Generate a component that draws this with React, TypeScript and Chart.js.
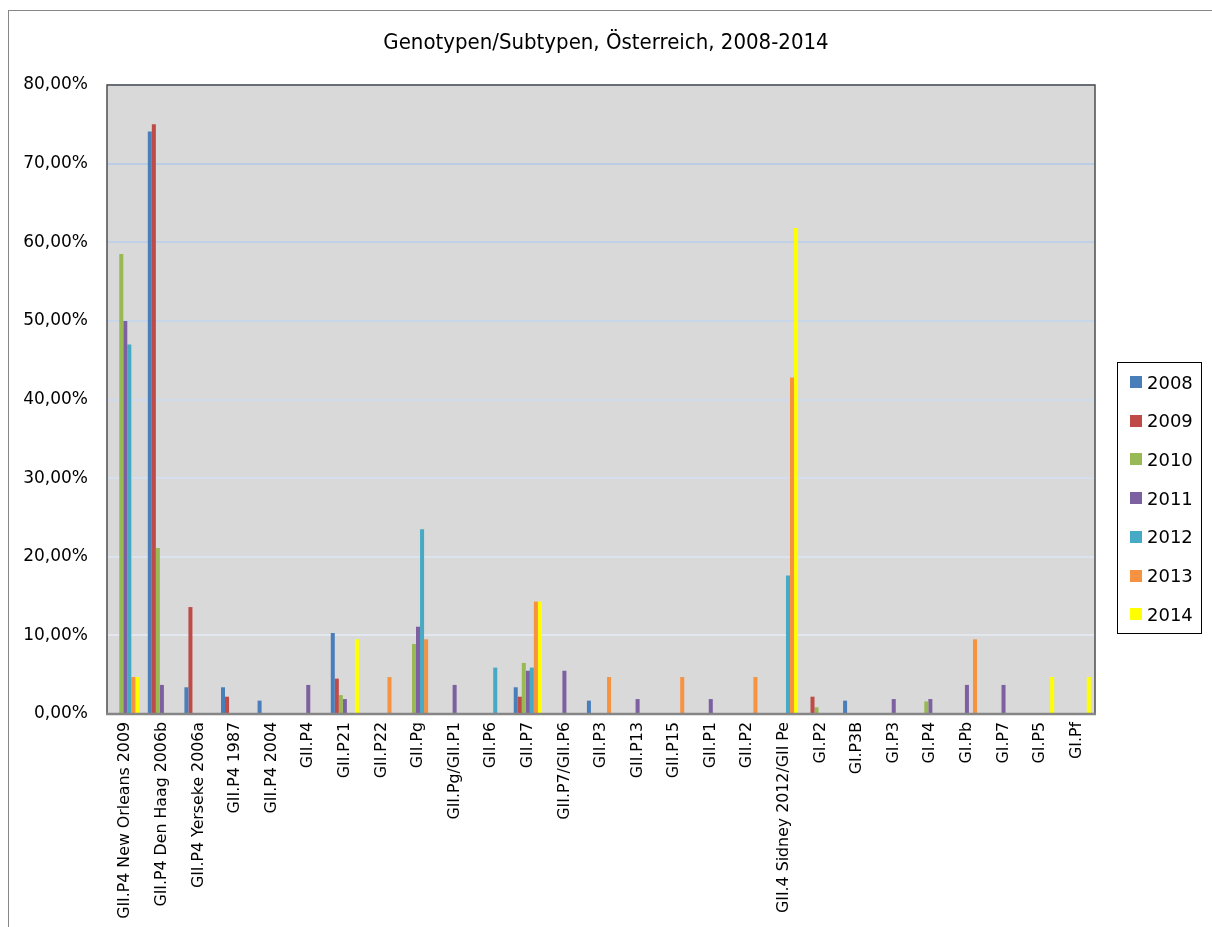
import React, { useEffect, useRef } from "react";
import { Chart, registerables } from "chart.js";

Chart.register(...registerables);

const categories = [
  "GII.P4 New Orleans 2009",
  "GII.P4 Den Haag 2006b",
  "GII.P4 Yerseke 2006a",
  "GII.P4 1987",
  "GII.P4 2004",
  "GII.P4",
  "GII.P21",
  "GII.P22",
  "GII.Pg",
  "GII.Pg/GII.P1",
  "GII.P6",
  "GII.P7",
  "GII.P7/GII.P6",
  "GII.P3",
  "GII.P13",
  "GII.P15",
  "GII.P1",
  "GII.P2",
  "GII.4 Sidney 2012/GII Pe",
  "GI.P2",
  "GI.P3B",
  "GI.P3",
  "GI.P4",
  "GI.Pb",
  "GI.P7",
  "GI.P5",
  "GI.Pf",
];

const years = ["2008", "2009", "2010", "2011", "2012", "2013", "2014"];

const v2008 = [0, 74.1, 3.4, 3.4, 1.7, 0, 10.3, 0, 0, 0, 0, 3.4, 0, 1.7, 0, 0, 0, 0, 0, 0, 1.7, 0, 0, 0, 0, 0, 0];
const v2009 = [0, 75.0, 13.6, 2.2, 0, 0, 4.5, 0, 0, 0, 0, 2.2, 0, 0, 0, 0, 0, 0, 0, 2.2, 0, 0, 0, 0, 0, 0, 0];
const v2010 = [58.5, 21.1, 0, 0, 0, 0, 2.4, 0, 8.9, 0, 0, 6.5, 0, 0, 0, 0, 0, 0, 0, 0.85, 0, 0, 1.6, 0, 0, 0, 0];
const v2011 = [50.0, 3.7, 0, 0, 0, 3.7, 1.9, 0, 11.1, 3.7, 0, 5.5, 5.5, 0, 1.9, 0, 1.9, 0, 0, 0, 0, 1.9, 1.9, 3.7, 3.7, 0, 0];
const v2012 = [47.0, 0, 0, 0, 0, 0, 0, 0, 23.5, 0, 5.9, 5.9, 0, 0, 0, 0, 0, 0, 17.6, 0, 0, 0, 0, 0, 0, 0, 0];
const v2013 = [4.7, 0, 0, 0, 0, 0, 0, 4.7, 9.5, 0, 0, 14.3, 0, 4.7, 0, 4.7, 0, 4.7, 42.8, 0, 0, 0, 0, 9.5, 0, 0, 0];
const v2014 = [4.7, 0, 0, 0, 0, 0, 9.5, 0, 0, 0, 0, 14.3, 0, 0, 0, 0, 0, 0, 61.8, 0, 0, 0, 0, 0, 0, 4.7, 4.7];

const seriesValues = [v2008, v2009, v2010, v2011, v2012, v2013, v2014];
const colors = ["#4a7ebb", "#be4b48", "#98b954", "#7d60a0", "#46aac5", "#f69240", "#ffff00"];

const yTicks = { min: 0, max: 80, step: 10 };

const plotBg = {
  id: "plotBg",
  beforeDraw(chart: any) {
    const { ctx, chartArea } = chart;
    ctx.save();
    ctx.fillStyle = "#d9d9d9";
    ctx.fillRect(chartArea.left, chartArea.top, chartArea.right - chartArea.left, chartArea.bottom - chartArea.top);
    ctx.restore();
  },
  afterDraw(chart: any) {
    const { ctx, chartArea } = chart;
    ctx.save();
    ctx.strokeStyle = "#4d4d4d";
    ctx.lineWidth = 1.5;
    ctx.beginPath();
    ctx.moveTo(chartArea.left, chartArea.bottom);
    ctx.lineTo(chartArea.left, chartArea.top);
    ctx.lineTo(chartArea.right, chartArea.top);
    ctx.lineTo(chartArea.right, chartArea.bottom);
    ctx.stroke();
    ctx.strokeStyle = "#868686";
    ctx.lineWidth = 2.5;
    ctx.beginPath();
    ctx.moveTo(chartArea.left - 1, chartArea.bottom);
    ctx.lineTo(chartArea.right + 1, chartArea.bottom);
    ctx.stroke();
    ctx.restore();
  },
};

function gridColor(ctx: any) {
  const v = ctx.tick ? ctx.tick.value : 0;
  if (v <= 0) return "rgba(0,0,0,0)";
  const t = Math.min(1, Math.max(0, (v - 10) / 60));
  const a = [226, 231, 240];
  const b = [185, 205, 229];
  const c = a.map((x, i) => Math.round(x + (b[i] - x) * t));
  return `rgb(${c[0]},${c[1]},${c[2]})`;
}

export default function App() {
  const ref = useRef<HTMLCanvasElement | null>(null);

  useEffect(() => {
    if (!ref.current) return;
    const chart = new Chart(ref.current, {
      type: "bar",
      data: {
        labels: categories,
        datasets: years.map((y, i) => ({
          label: y,
          data: seriesValues[i],
          backgroundColor: colors[i],
          borderWidth: 0,
          barPercentage: 1,
          categoryPercentage: 0.77,
          yAxisID: "y",
        })),
      },
      options: {
        animation: false,
        responsive: false,
        maintainAspectRatio: false,
        devicePixelRatio: 1,
        layout: { padding: { left: 0, right: 0, top: 0, bottom: 0 } },
        plugins: {
          legend: { display: false },
          tooltip: { enabled: false },
          title: {
            display: true,
            text: "Genotypen/Subtypen, Österreich, 2008-2014",
            color: "#000",
            font: { family: "'DejaVu Sans Condensed', 'DejaVu Sans'", size: 22, weight: "normal" },
            padding: { top: 30, bottom: 28.6 },
          },
        },
        scales: {
          x: {
            grid: { display: false, drawTicks: false },
            border: { display: false },
            ticks: {
              autoSkip: false,
              maxRotation: 90,
              minRotation: 90,
              padding: 8,
              color: "#000",
              font: { family: "'DejaVu Sans'", size: 15.8 },
            },
            afterFit(scale: any) {
              scale.height = 213;
            },
          },
          y: {
            min: yTicks.min,
            max: yTicks.max,
            grid: { color: gridColor, lineWidth: 2, drawTicks: false },
            border: { display: false },
            ticks: {
              stepSize: yTicks.step,
              padding: 19,
              color: "#000",
              font: { family: "'DejaVu Sans'", size: 17 },
              callback: (v: any) => Number(v).toFixed(2).replace(".", ",") + "%",
            },
            afterFit(scale: any) {
              scale.width = 107;
            },
          },
          yRight: {
            type: "linear",
            position: "right",
            display: true,
            grid: { display: false, drawTicks: false },
            border: { display: false },
            ticks: { display: false },
            afterFit(scale: any) {
              scale.width = 117;
            },
          },
        },
      },
      plugins: [plotBg],
    } as any);
    return () => chart.destroy();
  }, []);

  return (
    <div style={{ position: "fixed", left: 0, top: 0, width: 1212, height: 927, background: "#fff", overflow: "hidden" }}>
      <div
        style={{
          position: "absolute",
          left: 8,
          top: 10,
          width: 1400,
          height: 1200,
          borderLeft: "1.5px solid #868686",
          borderTop: "1.5px solid #868686",
        }}
      />
      <canvas ref={ref} width={1212} height={927} style={{ position: "absolute", left: 0, top: 0 }} />
      <div
        style={{
          position: "absolute",
          left: 1117,
          top: 362,
          width: 85,
          height: 272,
          border: "1.5px solid #000",
          boxSizing: "border-box",
          fontFamily: "'DejaVu Sans'",
          fontSize: 18,
          color: "#000",
        }}
      >
        {years.map((y, i) => (
          <div
            key={y}
            style={{
              position: "absolute",
              left: 12,
              top: 6 + i * 38.7,
              height: 26,
              display: "flex",
              alignItems: "center",
              whiteSpace: "nowrap",
            }}
          >
            <span style={{ display: "inline-block", width: 12, height: 12, background: colors[i], marginRight: 5 }} />
            <span>{y}</span>
          </div>
        ))}
      </div>
    </div>
  );
}
